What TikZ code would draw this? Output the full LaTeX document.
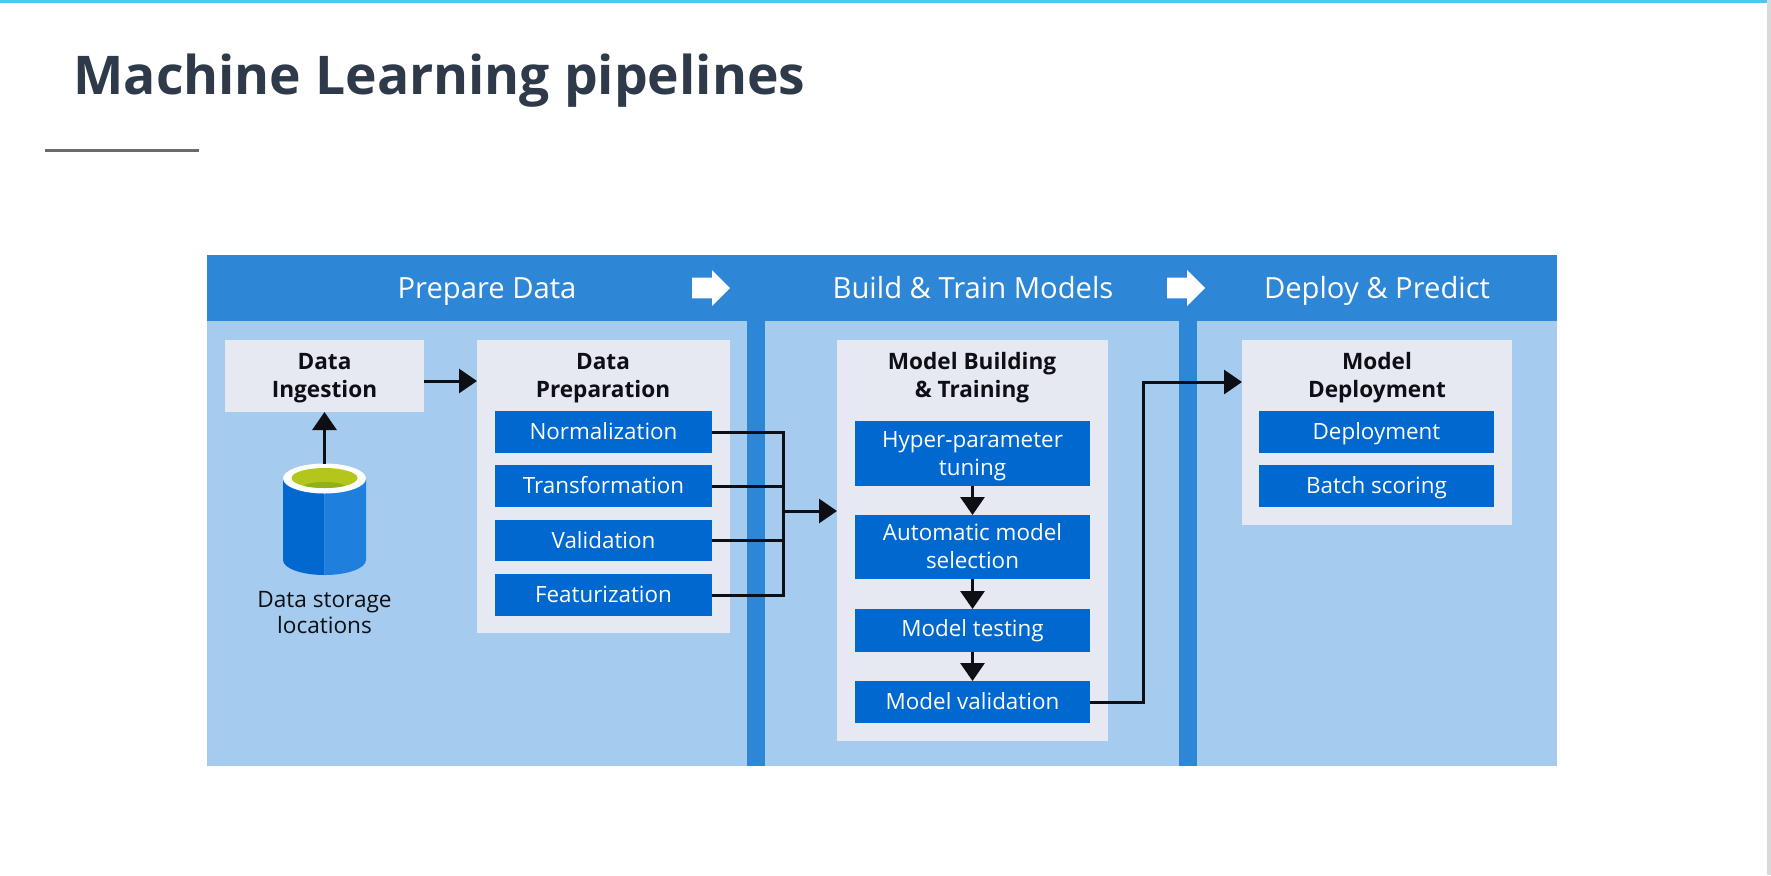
\documentclass[tikz,border=0pt]{standalone}
\usepackage{fontspec}
\setmainfont{Open Sans}
\usetikzlibrary{arrows.meta,shapes.arrows,calc}
\definecolor{hdr}{HTML}{2D86D6}
\definecolor{lite}{HTML}{A5CBEE}
\definecolor{inner}{HTML}{0068CE}
\definecolor{pale}{HTML}{E6E8F2}
\definecolor{ttl}{HTML}{2E3A4A}
\definecolor{ink}{HTML}{0D0F14}
\definecolor{cylr}{HTML}{1F7FDC}
\definecolor{olive}{HTML}{B3C61C}
\definecolor{oliveb}{HTML}{8FB21A}
\newcommand{\st}{\rule[-3.1pt]{0pt}{14pt}}
\tikzset{
  px/.style={x=0.5pt,y=-0.5pt},
  panelbox/.style={fill=pale,inner sep=0pt,outer sep=0pt},
  bluebox/.style={fill=inner,inner sep=0pt,outer sep=0pt,text=white,align=center,font=\fontsize{11.2}{14}\selectfont},
  boxtitle/.style={text=ink,align=center,font=\fontsize{11.3}{14.2}\selectfont\bfseries,inner sep=0pt},
  hdrtext/.style={text=white,font=\fontsize{14.6}{17}\selectfont,inner sep=0pt,anchor=base},
  hdrarrow/.style={single arrow,fill=white,inner xsep=0pt,inner ysep=5pt,outer sep=0pt,minimum height=19pt,single arrow head extend=3.75pt,single arrow tip angle=90,anchor=tail},
  conn/.style={draw=ink,line width=1.5pt},
  arr/.style={conn,-{Triangle[length=9pt,width=12pt]}},
}
\newcommand{\bx}[7]{%
  \pgfmathsetlengthmacro\bw{(#5-#3)*0.5pt}%
  \pgfmathsetlengthmacro\bh{(#6-#4)*0.5pt}%
  \pgfmathsetmacro\cx{(#3+#5)/2}%
  \pgfmathsetmacro\cy{(#4+#6)/2}%
  \node[#2,minimum width=\bw,minimum height=\bh] (#1) at (\cx,\cy) {#7};%
}
\begin{document}
\begin{tikzpicture}[px]
\useasboundingbox (0,0) rectangle (1771,875);
\fill[white] (0,0) rectangle (1771,875);
\fill[cyan!70!white] (0,0) rectangle (1768,2.5);
\fill[black!15] (1767,0) rectangle (1771,875);
\node[anchor=base west,text=ttl,font=\fontsize{26.7}{30}\selectfont\bfseries,inner sep=0pt] (title) at (73,94) {Machine Learning pipelines};
\fill[black!58] (45,149) rectangle (199,151.5);
% panel
\fill[lite] (207,255) rectangle (1556.5,765.5);
\fill[hdr] (207,255) rectangle (1556.5,321);
\fill[hdr] (747,321) rectangle (765,765.5);
\fill[hdr] (1179,321) rectangle (1197,765.5);
\node[hdrtext] (h1) at (487,298) {Prepare Data};
\node[hdrtext] (h2) at (973,298) {Build \& Train Models};
\node[hdrtext] (h3) at (1377,298) {Deploy \& Predict};
\node[hdrarrow] (a1) at (692,288) {};
\node[hdrarrow] (a2) at (1167,288) {};
% pale boxes
\bx{ingest}{panelbox}{225}{340}{424}{412}{}
\bx{prep}{panelbox}{477}{340}{730}{632.5}{}
\bx{build}{panelbox}{837}{340}{1108}{741}{}
\bx{deploy}{panelbox}{1242}{340}{1512}{525}{}
\node[boxtitle] (t1) at (324.5,378) {\strut Data\\\strut Ingestion};
\node[boxtitle] (t2) at (603,378) {\strut Data\\\strut Preparation};
\node[boxtitle] (t3) at (972,378) {\strut Model Building\\\strut \& Training};
\node[boxtitle] (t4) at (1377,378) {\strut Model\\\strut Deployment};
% blue boxes
\bx{norm}{bluebox}{495}{411}{712}{453}{\st Normalization}
\bx{trans}{bluebox}{495}{465}{712}{507}{\st Transformation}
\bx{valid}{bluebox}{495}{520}{712}{561}{\st Validation}
\bx{feat}{bluebox}{495}{574}{712}{616}{\st Featurization}
\bx{hyper}{bluebox}{855}{421}{1090}{486}{\st Hyper-parameter\\\st tuning}
\bx{auto}{bluebox}{855}{515}{1090}{579}{\st Automatic model\\\st selection}
\bx{test}{bluebox}{855}{609}{1090}{652}{\strut Model testing}
\bx{mval}{bluebox}{855}{681}{1090}{723}{\st Model validation}
\bx{dep}{bluebox}{1259}{411}{1494}{453}{\st Deployment}
\bx{batch}{bluebox}{1259}{465}{1494}{507}{\st Batch scoring}
% cylinder
\fill[inner] (283,479) -- (283,560) arc[x radius=41.5,y radius=15,start angle=180,end angle=90] -- (324.5,479) -- cycle;
\fill[cylr] (324.5,479) -- (324.5,575) arc[x radius=41.5,y radius=15,start angle=90,end angle=0] -- (366,479) -- cycle;
\fill[white] (324.5,478.5) ellipse[x radius=41.5,y radius=15];
\begin{scope}
\fill[olive] (324.5,478) ellipse[x radius=33,y radius=10];
\clip (324.5,478) ellipse[x radius=33,y radius=10];
\fill[oliveb] (324.5,489) ellipse[x radius=24,y radius=7];
\end{scope}
\coordinate (cyltop) at (324.5,464);
\node[text=ink,align=center,font=\fontsize{11.3}{13.2}\selectfont,inner sep=0pt] (store) at (324.5,612.5) {Data storage\\locations};
% connectors
\draw[arr] (cyltop) -- (cyltop |- ingest.south);
\draw[arr] ([yshift=-2.5pt]ingest.east) -- ([yshift=-2.5pt]ingest.east -| prep.west);
\coordinate (jn) at (783,511);
\draw[conn] (norm.east) -| (jn);
\draw[conn] (feat.east) -| (jn);
\draw[conn] (trans.east) -- (trans.east -| jn);
\draw[conn] (valid.east) -- (valid.east -| jn);
\draw[arr] (jn) -- (jn -| build.west);
\draw[arr] (hyper.south) -- (auto.north);
\draw[arr] (auto.south) -- (test.north);
\draw[arr] (test.south) -- (mval.north);
\coordinate (up) at (1143,382);
\draw[arr] (mval.east) -| (up) -- (up -| deploy.west);
\end{tikzpicture}
\end{document}
